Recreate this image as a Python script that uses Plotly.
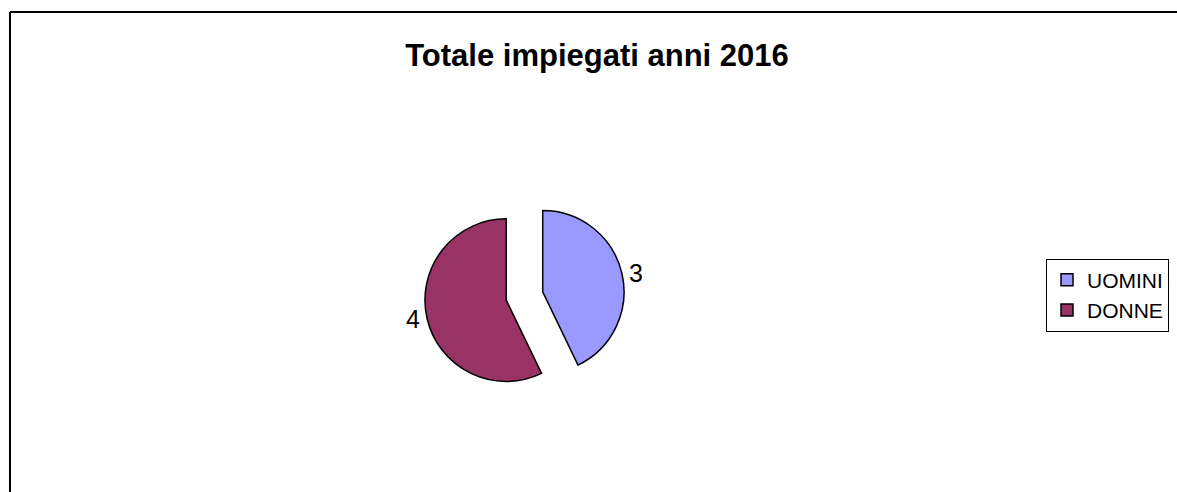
import plotly.graph_objects as go

categories = ["UOMINI", "DONNE"]
values = [3, 4]
colors = ["#9999FF", "#993366"]
title_text = "Totale impiegati anni 2016"

W, H = 1177, 492

def px_x(x):
    return x / W

def px_y(y):
    return 1 - y / H

cx, cy, half = 524.5, 296, 100

fig = go.Figure(go.Pie(
    labels=categories,
    values=values,
    sort=False,
    direction="clockwise",
    rotation=0,
    pull=[0.23, 0.23],
    marker=dict(colors=colors, line=dict(color="black", width=1.5)),
    textinfo="value",
    textposition="outside",
    textfont=dict(family="Liberation Sans, Arial", size=25, color="black"),
    domain=dict(x=[px_x(cx - half), px_x(cx + half)], y=[px_y(cy + half), px_y(cy - half)]),
    hoverinfo="label+value",
))

fig.update_layout(
    width=W, height=H,
    margin=dict(l=0, r=0, t=0, b=0),
    paper_bgcolor="white",
    plot_bgcolor="white",
    title=dict(text="<b>" + title_text + "</b>", x=597 / W, xanchor="center",
               y=px_y(55), yanchor="middle",
               font=dict(family="Liberation Sans, Arial", size=31, color="black")),
    showlegend=True,
    legend=dict(x=px_x(1046), xanchor="left", y=px_y(295), yanchor="middle",
                bordercolor="black", borderwidth=1, bgcolor="white",
                font=dict(family="Liberation Sans, Arial", size=21, color="black"),
                itemwidth=30),
    shapes=[
        dict(type="line", xref="paper", yref="paper", x0=px_x(10), x1=px_x(10),
             y0=px_y(12), y1=px_y(500), line=dict(color="black", width=2)),
        dict(type="line", xref="paper", yref="paper", x0=px_x(10), x1=px_x(1190),
             y0=px_y(12), y1=px_y(12), line=dict(color="black", width=2)),
    ],
)

fig.write_html("out.html", config={"displayModeBar": False},
               post_script="document.body.style.margin='0';")
